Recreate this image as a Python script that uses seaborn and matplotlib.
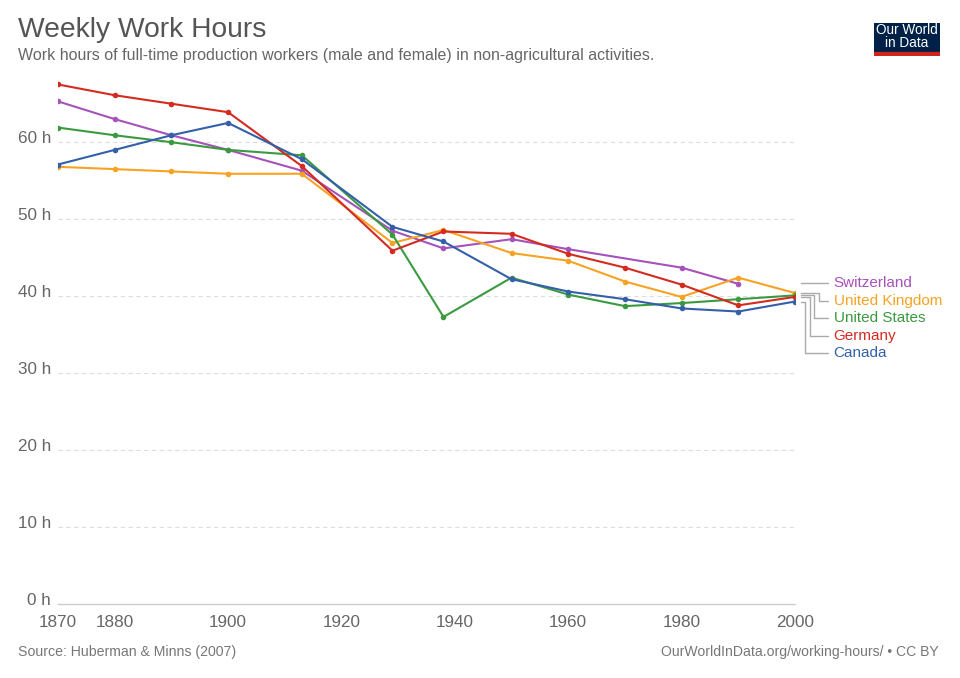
import seaborn as sns
import matplotlib.pyplot as plt
import matplotlib.transforms as mtransforms
import numpy as np
import pandas as pd

# data
years = [1870, 1880, 1890, 1900, 1913, 1929, 1938, 1950, 1960, 1970, 1980, 1990, 2000]
years_ch = [1870, 1880, 1890, 1900, 1913, 1929, 1938, 1950, 1960, 1980, 1990]

switzerland = [65.3, 63.0, 60.9, 59.0, 56.3, 48.5, 46.2, 47.4, 46.1, 43.7, 41.6]
united_kingdom = [56.8, 56.5, 56.2, 55.9, 55.9, 46.9, 48.6, 45.6, 44.6, 41.9, 39.9, 42.4, 40.4]
united_states = [61.9, 60.9, 60.0, 59.0, 58.3, 48.0, 37.3, 42.4, 40.2, 38.7, 39.1, 39.6, 40.1]
germany = [67.5, 66.1, 65.0, 63.9, 56.9, 45.9, 48.4, 48.1, 45.5, 43.7, 41.5, 38.8, 39.9]
canada = [57.1, 59.0, 60.9, 62.5, 57.8, 49.0, 47.1, 42.2, 40.6, 39.6, 38.4, 38.0, 39.3]

countries = ["Switzerland", "United Kingdom", "United States", "Germany", "Canada"]
colors = ["#a652ba", "#f6a324", "#3a9a3f", "#d42b21", "#3360a9"]
label_y = [41.7, 39.35, 37.1, 34.8, 32.6]
elbow_x = [2003.0, 2004.2, 2003.3, 2002.6, 2001.8]

yticks = [0, 10, 20, 30, 40, 50, 60]
xticks = [1870, 1880, 1900, 1920, 1940, 1960, 1980, 2000]

frames = []
for name, xs, vals in [("Switzerland", years_ch, switzerland),
                       ("United Kingdom", years, united_kingdom),
                       ("United States", years, united_states),
                       ("Germany", years, germany),
                       ("Canada", years, canada)]:
    frames.append(pd.DataFrame({"year": xs, "hours": vals, "country": name}))
df = pd.concat(frames, ignore_index=True)

sns.set_style("white")
plt.rcParams["font.family"] = ["Liberation Sans", "DejaVu Sans"]

fig = plt.figure(figsize=(9.6, 6.78), dpi=100)
ax = fig.add_axes([0.0604, 0.1091, 0.7677, 0.772])

sns.lineplot(data=df, x="year", y="hours", hue="country", hue_order=countries,
             palette=colors, marker="o", markersize=4, markeredgewidth=0,
             linewidth=1.5, legend=False, ax=ax)

ax.set_xlim(1870, 2000)
ax.set_ylim(0, 68)
ax.set_xlabel("")
ax.set_ylabel("")
for s in ["top", "right", "left"]:
    ax.spines[s].set_visible(False)
ax.spines["bottom"].set_color("#cccccc")
ax.spines["bottom"].set_linewidth(1)

ax.set_yticks(yticks)
ax.set_yticklabels([f"{v} h" for v in yticks])
ax.set_xticks(xticks)
ax.set_xticklabels([str(v) for v in xticks])
ax.tick_params(axis="both", length=0, labelsize=12.3, labelcolor="#666666")
ax.tick_params(axis="y", pad=5)
ax.tick_params(axis="x", pad=8)
for lab in ax.get_yticklabels():
    lab.set_transform(lab.get_transform() + mtransforms.ScaledTranslation(0, 5 / 100, fig.dpi_scale_trans))

for v in yticks[1:]:
    ax.axhline(v, color="#dddddd", linewidth=0.8, linestyle=(0, (4, 3)), zorder=0)

# end labels with connector lines
last_vals = [label_y[0], united_kingdom[-1], united_states[-1], germany[-1], canada[-1]]
for name, col, ly, ex, lv in zip(countries, colors, label_y, elbow_x, last_vals):
    ax.plot([2001, ex, ex, 2005.9], [lv, lv, ly, ly],
            color="#aaaaaa", linewidth=1, clip_on=False)
    ax.text(2006.8, ly, name, color=col, fontsize=11, va="center", ha="left", clip_on=False)

fig.text(0.019, 0.945, "Weekly Work Hours", fontsize=20.3, color="#555555", va="baseline")
fig.text(0.019, 0.912, "Work hours of full-time production workers (male and female) in non-agricultural activities.",
         fontsize=11.5, color="#666666", va="baseline")
fig.text(0.019, 0.033, "Source: Huberman & Minns (2007)", fontsize=10.2, color="#777777", va="baseline")
fig.text(0.978, 0.033, "OurWorldInData.org/working-hours/ • CC BY", fontsize=10.1, color="#777777",
         va="baseline", ha="right")

# logo
logo = fig.add_axes([874 / 960, 1 - 56 / 678, 66 / 960, 33 / 678])
logo.set_xlim(0, 1)
logo.set_ylim(0, 1)
logo.axis("off")
logo.add_patch(plt.Rectangle((0, 0.12), 1, 0.88, color="#002147"))
logo.add_patch(plt.Rectangle((0, 0), 1, 0.12, color="#ce261e"))
logo.text(0.5, 0.79, "Our World", color="white", fontsize=9.8, ha="center", va="center")
logo.text(0.5, 0.40, "in Data", color="white", fontsize=9.8, ha="center", va="center")

fig.savefig("out.png", dpi=100)
